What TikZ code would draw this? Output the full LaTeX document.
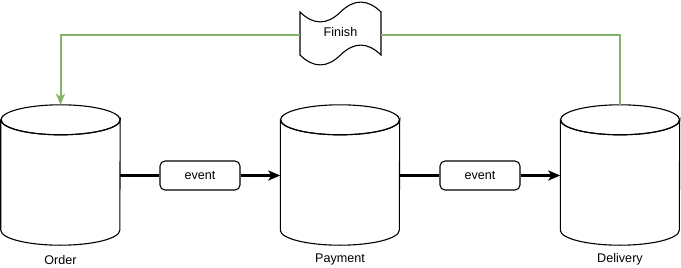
\documentclass[tikz,border=0pt]{standalone}
\usepackage{fontspec}
\setmainfont{Liberation Sans}
\usetikzlibrary{arrows.meta,calc}
\definecolor{dgreen}{HTML}{82B366}
\tikzset{
  every node/.style={font=\fontsize{12.6}{14}\selectfont},
  cylbox/.style={minimum width=119pt, minimum height=140pt, inner sep=0pt, draw=none},
  cylline/.style={draw=black, line width=1.1pt, fill=white},
  evbox/.style={draw=black, line width=1.1pt, rounded corners=5pt, minimum width=80pt, minimum height=29pt, inner sep=0pt, fill=white},
  flow/.style={draw=black, line width=2.2pt, -{Stealth[length=12pt,width=10pt,inset=3pt]}},
  plain/.style={draw=black, line width=2.2pt},
  back/.style={draw=dgreen, line width=2pt},
  backarrow/.style={back, -{Stealth[length=11pt,width=9pt,inset=3pt]}},
  tapeline/.style={draw=black, line width=1.1pt, fill=white},
  lbl/.style={inner sep=0pt}
}
\newcommand{\mycyl}[1]{%
  \path[cylline] (#1.north west) ++(0,15) -- ($(#1.south west)+(0,-15)$)
    arc[start angle=180, end angle=0, x radius=59.5, y radius=15]
    -- ($(#1.north east)+(0,15)$)
    arc[start angle=0, end angle=180, x radius=59.5, y radius=15] -- cycle;
  \draw[line width=1.1pt] ($(#1.north)+(0,15)$) ellipse[x radius=59.5, y radius=15];
}
\begin{document}
\begin{tikzpicture}[x=1pt,y=-1pt]
\useasboundingbox (0,0) rectangle (681,268);
% cylinders
\node[cylbox] (order) at (60.5,175) {};
\node[cylbox] (payment) at (340,175) {};
\node[cylbox] (delivery) at (620,175) {};
\mycyl{order}
\mycyl{payment}
\mycyl{delivery}
\node[lbl] (lorder) at (60.5,260) {Order};
\node[lbl] (lpayment) at (340,259) {Payment};
\node[lbl] (ldelivery) at (620,259) {Delivery};
% events
\node[evbox] (ev1) at (200,175.5) {event};
\node[evbox] (ev2) at (480,175.5) {event};
\draw[plain] (order.east |- ev1.west) -- (ev1.west);
\draw[flow] (ev1.east) -- (payment.west |- ev1.east);
\draw[plain] (payment.east |- ev2.west) -- (ev2.west);
\draw[flow] (ev2.east) -- (delivery.west |- ev2.east);
% tape
\path[tapeline] (300,12) .. controls (313.5,25.2) and (327,25.2) .. (340.5,12)
  .. controls (354,-1.2) and (367.5,-1.2) .. (381,12)
  -- (381,55) .. controls (367.5,41.8) and (354,41.8) .. (340.5,55)
  .. controls (327,68.2) and (313.5,68.2) .. (300,55) -- cycle;
\node[minimum width=81pt, minimum height=40pt, inner sep=0pt] (finish) at (340.5,35) {};
\node[lbl] (ftext) at (340.5,32) {Finish};
% back loop
\draw[back] (delivery.north) |- (finish.east);
\draw[backarrow] (finish.west) -| (order.north);
\end{tikzpicture}
\end{document}
